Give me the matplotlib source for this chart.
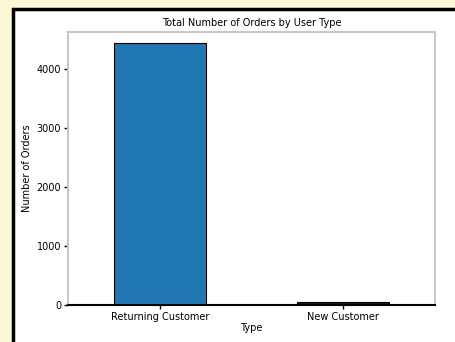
import matplotlib
matplotlib.use("Agg")
import matplotlib.pyplot as plt
from matplotlib.patches import Rectangle

categories = ["Returning Customer", "New Customer"]
values = [4440, 50]
yticks = [0, 1000, 2000, 3000, 4000]
title = "Total Number of Orders by User Type"
xlabel = "Type"
ylabel = "Number of Orders"

fig = plt.figure(figsize=(4.56, 3.42), dpi=100)
fig.patch.set_facecolor("#fbf8d6")

bg = fig.add_axes([0, 0, 1, 1], zorder=-10)
bg.set_xlim(0, 456)
bg.set_ylim(342, 0)
bg.axis("off")
bg.add_patch(Rectangle((13, 9), 460, 350, facecolor="white", edgecolor="black", linewidth=2.5))

ax = fig.add_axes([68/456, 1 - 305/342, (435-68)/456, (305-32)/342])
colors = ["#1f77b4", "#1a1a1a"]
ax.bar(range(len(categories)), values, width=0.5, color=colors, edgecolor="black", linewidth=0.8)
ax.axhline(0, color="#1f77b4", linewidth=2)
ax.set_xlim(-0.5, 1.5)
ax.set_ylim(0, 4630)
ax.set_xticks(range(len(categories)))
ax.set_xticklabels(categories, fontsize=7)
ax.set_yticks(yticks)
ax.set_yticklabels([str(v) for v in yticks], fontsize=7)
ax.set_title(title, fontsize=7, pad=4)
ax.set_xlabel(xlabel, fontsize=7, labelpad=1)
ax.set_ylabel(ylabel, fontsize=7, labelpad=3)
for s in ["left", "top", "right"]:
    ax.spines[s].set_color("#c8c8c8")
    ax.spines[s].set_linewidth(1.5)
ax.spines["bottom"].set_color("black")
ax.spines["bottom"].set_linewidth(1.5)
ax.tick_params(length=3, width=1, pad=2)

fig.savefig("out.png", dpi=100, facecolor=fig.get_facecolor())
